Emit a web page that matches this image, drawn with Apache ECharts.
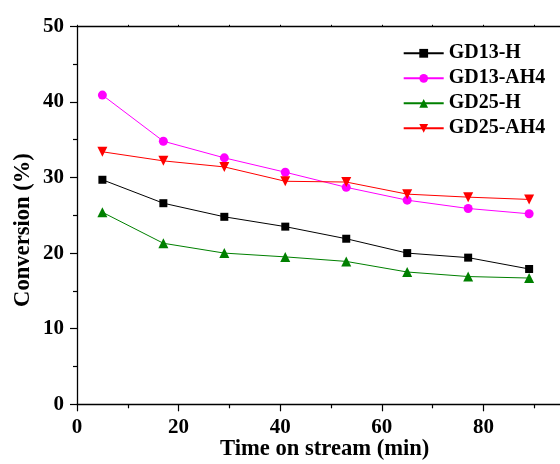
<!DOCTYPE html>
<html>
<head>
<meta charset="utf-8">
<script src="https://cdn.jsdelivr.net/npm/echarts@6/dist/echarts.min.js"></script>
<style>
html,body{margin:0;padding:0;background:#fff;}
#chart{width:560px;height:464px;}
</style>
</head>
<body>
<div id="chart"></div>
<script>
const timeMin = [5, 17, 29, 41, 53, 65, 77, 89];
const gd13H   = [29.7, 26.6, 24.8, 23.5, 21.9, 20.0, 19.4, 17.9];
const gd13AH4 = [40.9, 34.8, 32.6, 30.7, 28.7, 27.0, 25.9, 25.2];
const gd25H   = [25.4, 21.3, 20.0, 19.5, 18.9, 17.5, 16.9, 16.7];
const gd25AH4 = [33.4, 32.2, 31.4, 29.5, 29.4, 27.8, 27.4, 27.1];
const seriesNames = ['GD13-H', 'GD13-AH4', 'GD25-H', 'GD25-AH4'];

const FONT = '"Liberation Serif", "Times New Roman", serif';
const pairs = arr => timeMin.map((t, i) => [t, arr[i]]);

function mk(name, data, color, symbol, size, rotate) {
  return {
    name, type: 'line', data: pairs(data),
    symbol, symbolSize: size, symbolRotate: rotate || 0,
    lineStyle: { color, width: 1 },
    itemStyle: { color },
    emphasis: { disabled: true },
    animation: false
  };
}

const chart = echarts.init(document.getElementById('chart'), null, { renderer: 'canvas' });
chart.setOption({
  backgroundColor: '#fff',
  animation: false,
  grid: { left: 77, top: 26.3, bottom: 59.7, right: -25, containLabel: false, outerBoundsMode: 'none' },
  legend: {
    orient: 'vertical', left: 397.7, top: 38.3,
    itemWidth: 40, itemHeight: 11, itemGap: 5,
    textStyle: { fontFamily: FONT, fontWeight: 'bold', fontSize: 20, color: '#000', lineHeight: 20 },
    data: seriesNames
  },
  xAxis: [{
    type: 'value', min: 0, max: 100, interval: 20,
    name: 'Time on stream (min)', nameLocation: 'middle', nameGap: 33, nameMoveOverlap: false,
    nameTextStyle: { fontFamily: FONT, fontWeight: 'bold', fontSize: 22.6, color: '#000', padding: [0, 12.6, 0, 0] },
    axisLine: { show: true, onZero: false, lineStyle: { color: '#000', width: 1.3 } },
    axisTick: { show: true, inside: false, length: 7, lineStyle: { color: '#000', width: 1.2 } },
    minorTick: { show: true, splitNumber: 2, length: 4, lineStyle: { color: '#000', width: 1.2 } },
    axisLabel: { fontFamily: FONT, fontWeight: 'bold', fontSize: 21, color: '#000', margin: 13,
      formatter: v => v >= 100 ? '' : String(v) },
    splitLine: { show: false }
  }, {
    type: 'value', position: 'top', min: 0, max: 100, interval: 10,
    axisLine: { show: true, onZero: false, lineStyle: { color: '#000', width: 1.3 } },
    axisTick: { show: true, inside: false, length: 1.5, lineStyle: { color: '#000', width: 1 } },
    axisLabel: { show: false }, splitLine: { show: false }
  }],
  yAxis: {
    type: 'value', min: 0, max: 50, interval: 10,
    name: 'Conversion (%)', nameLocation: 'middle', nameGap: 42, nameRotate: 90, nameMoveOverlap: false,
    nameTextStyle: { fontFamily: FONT, fontWeight: 'bold', fontSize: 22.6, color: '#000', padding: [0, 29.4, 0, 0] },
    axisLine: { show: true, onZero: false, lineStyle: { color: '#000', width: 1.3 } },
    axisTick: { show: true, inside: false, length: 7, lineStyle: { color: '#000', width: 1.2 } },
    minorTick: { show: true, splitNumber: 2, length: 4, lineStyle: { color: '#000', width: 1.2 } },
    axisLabel: { fontFamily: FONT, fontWeight: 'bold', fontSize: 21, color: '#000', margin: 13 },
    splitLine: { show: false }
  },
  series: [
    mk(seriesNames[0], gd13H, '#000000', 'rect', 8),
    mk(seriesNames[1], gd13AH4, '#ff00ff', 'circle', 9),
    mk(seriesNames[2], gd25H, '#008000', 'triangle', 10),
    mk(seriesNames[3], gd25AH4, '#ff0000', 'triangle', 10, 180)
  ]
});
</script>
</body>
</html>
